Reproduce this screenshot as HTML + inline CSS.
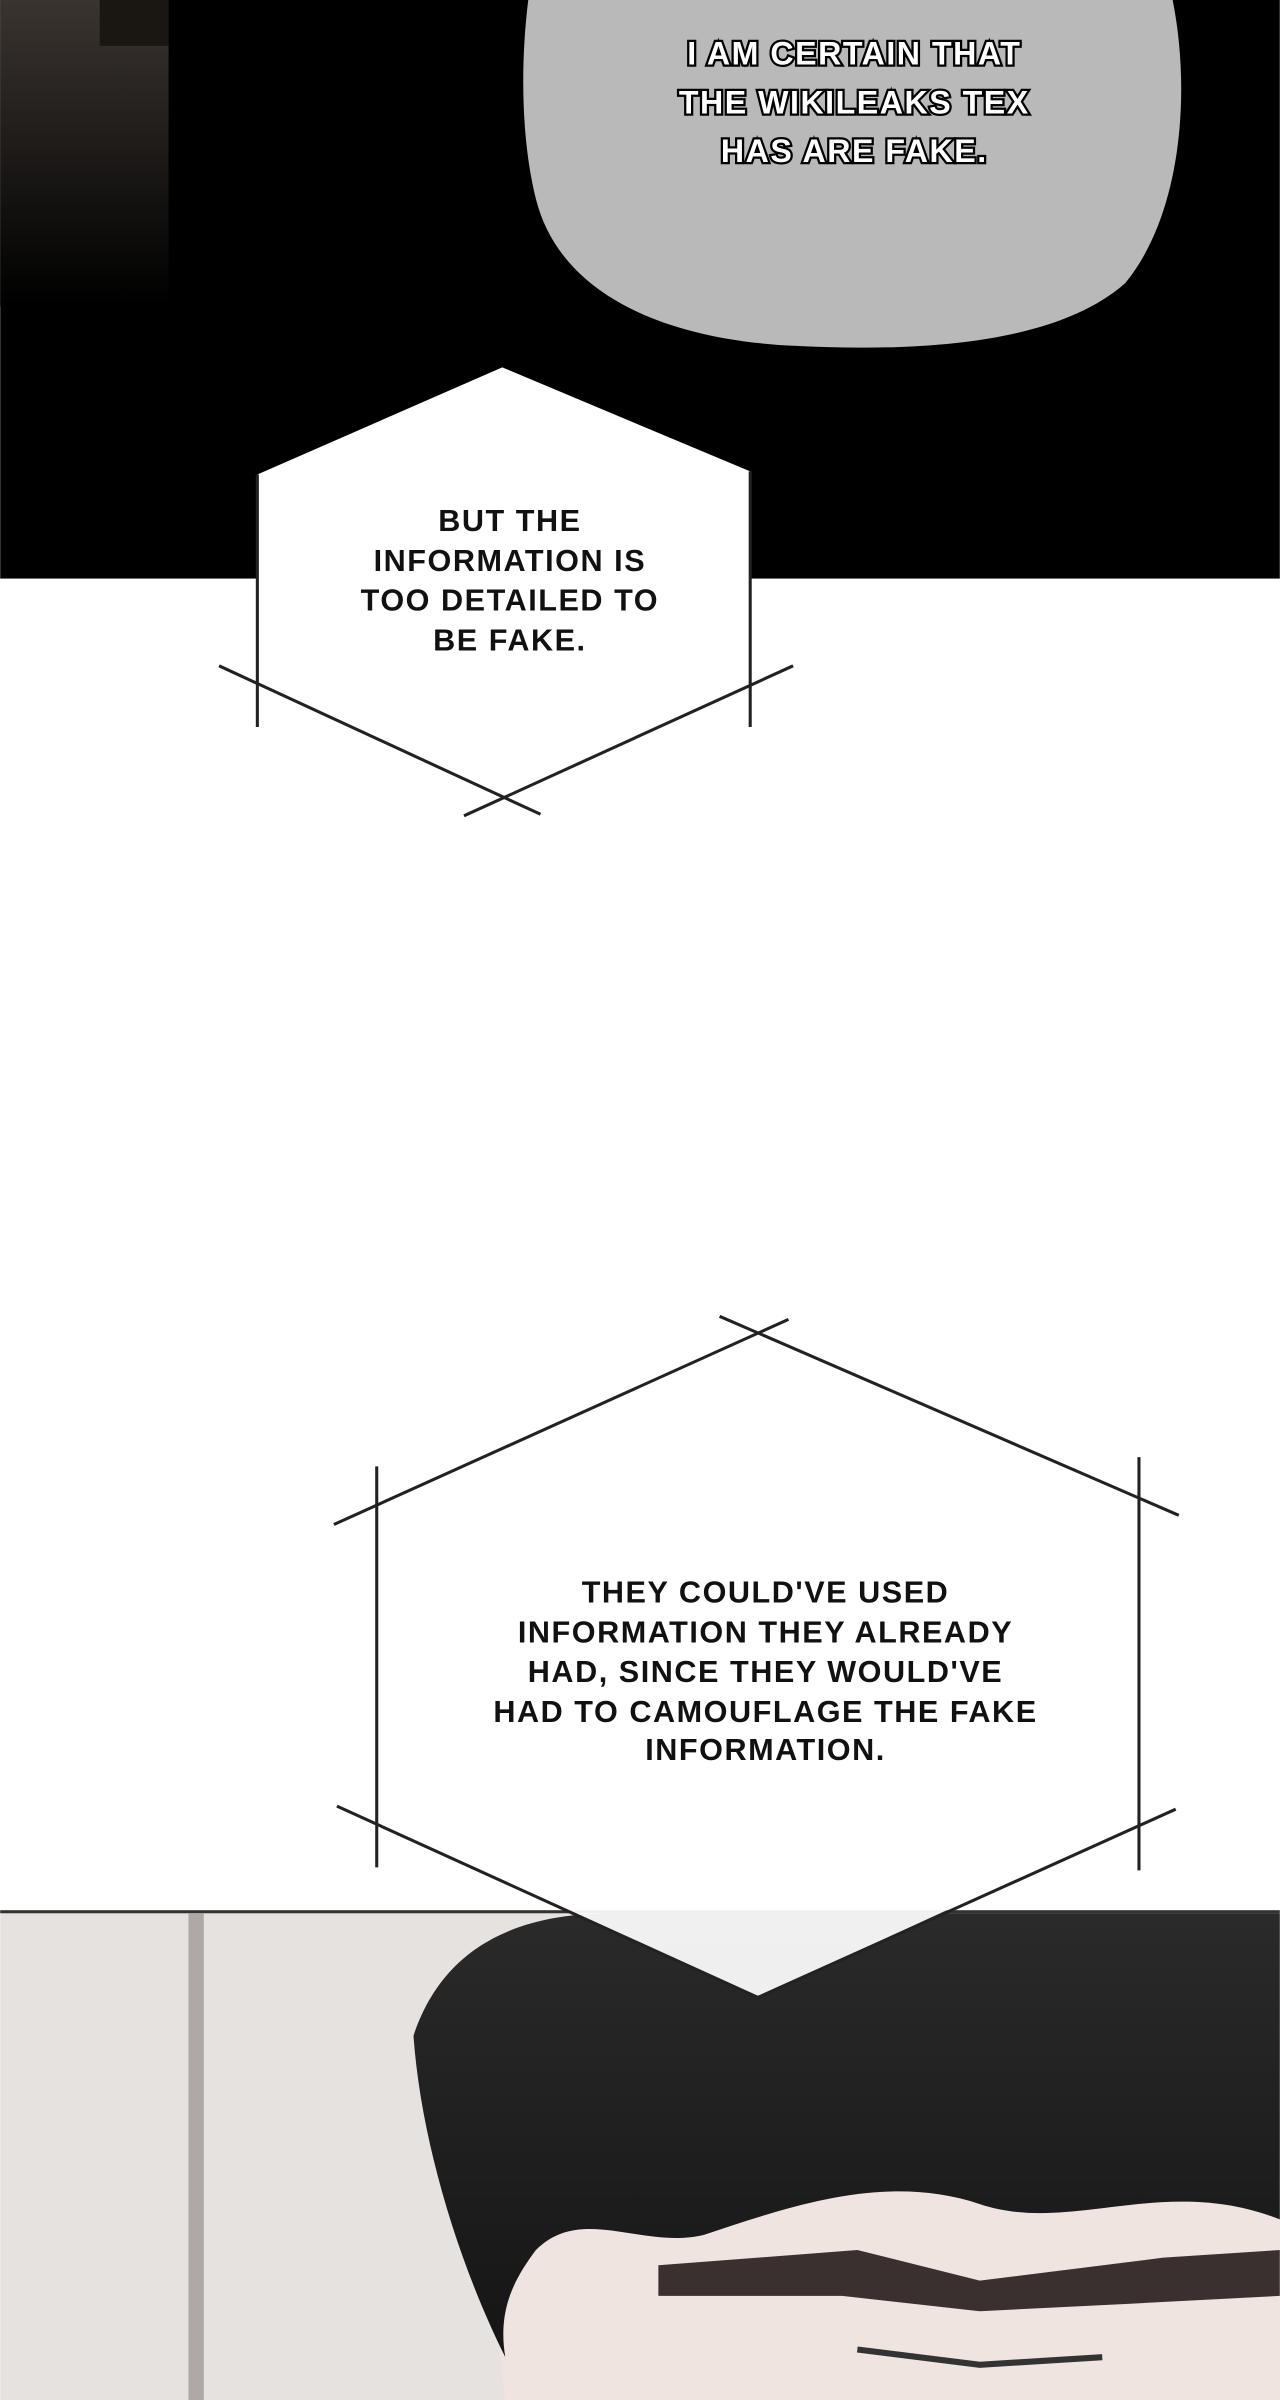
<!DOCTYPE html>
<html><head><meta charset="utf-8"><style>
html,body{margin:0;padding:0;background:#fff}
svg{display:block}
text{font-family:"Liberation Sans",sans-serif;font-weight:bold;text-anchor:middle;letter-spacing:1px}
</style></head><body>
<svg width="1280" height="2400" viewBox="0 0 836 1568" xmlns="http://www.w3.org/2000/svg">
<defs>
<linearGradient id="tl" x1="0" y1="0" x2="0" y2="1">
<stop offset="0" stop-color="#3a3430"/><stop offset="1" stop-color="#000"/></linearGradient>
<linearGradient id="hair" x1="0" y1="0" x2="0" y2="1">
<stop offset="0" stop-color="#2a2a2a"/><stop offset="1" stop-color="#151515"/></linearGradient>
</defs>
<rect x="0" y="0" width="836" height="378" fill="#000"/>
<rect x="0" y="0" width="110" height="200" fill="url(#tl)"/>
<rect x="65" y="0" width="45" height="30" fill="#1a1612"/>
<path d="M345,0 L766,0 C778,60 772,140 735,185 C690,225 600,230 520,226 C430,222 365,190 350,130 C340,90 340,40 345,0 Z" fill="#b9b9b9"/>
<g font-size="21" fill="#fff" stroke="#000" stroke-width="3" paint-order="stroke">
<text x="558" y="42">I AM CERTAIN THAT</text>
<text x="558" y="74">THE WIKILEAKS TEX</text>
<text x="558" y="106">HAS ARE FAKE.</text>
</g>
<polygon points="328,240 490,308 490,460 330,525 168,460 168,310" fill="#fff"/>
<g stroke="#222" stroke-width="2" fill="none">
<line x1="168" y1="310" x2="168" y2="475"/>
<line x1="490" y1="308" x2="490" y2="475"/>
<line x1="143" y1="435" x2="353" y2="532"/>
<line x1="518" y1="435" x2="303" y2="533"/>
</g>
<g font-size="20" fill="#111">
<text x="333" y="347">BUT THE</text>
<text x="333" y="373">INFORMATION IS</text>
<text x="333" y="399">TOO DETAILED TO</text>
<text x="333" y="425">BE FAKE.</text>
</g>
<rect x="0" y="1248" width="836" height="320" fill="#e6e2e0"/>
<rect x="0" y="1248" width="836" height="2" fill="#333"/>
<rect x="123" y="1250" width="10" height="318" fill="#b0a8a6"/>
<path d="M330,1568 C320,1500 330,1440 345,1400 L836,1380 L836,1568 Z" fill="#efe4df"/>
<path d="M270,1330 C290,1270 340,1250 400,1250 L836,1250 L836,1450 C760,1420 700,1460 640,1440 C580,1420 520,1440 460,1460 C420,1470 380,1440 350,1470 C335,1490 325,1510 330,1540 C300,1480 275,1400 270,1330 Z" fill="url(#hair)"/>
<path d="M430,1480 L560,1470 L640,1490 L760,1475 L836,1470 L836,1500 L740,1505 L640,1510 L550,1500 L430,1500 Z" fill="#3a3030"/>
<path d="M560,1535 L640,1545 L720,1540" stroke="#333" stroke-width="4" fill="none"/>
<polygon points="495,875 744,990 744,1190 495,1305 246,1190 246,990" fill="#fff" fill-opacity="0.93"/>
<g stroke="#222" stroke-width="2" fill="none">
<line x1="470" y1="860" x2="770" y2="990"/>
<line x1="515" y1="862" x2="218" y2="996"/>
<line x1="246" y1="958" x2="246" y2="1220"/>
<line x1="744" y1="952" x2="744" y2="1222"/>
<line x1="220" y1="1180" x2="495" y2="1305"/>
<line x1="768" y1="1182" x2="495" y2="1305"/>
</g>
<g font-size="20" fill="#111">
<text x="500" y="1047">THEY COULD'VE USED</text>
<text x="500" y="1073">INFORMATION THEY ALREADY</text>
<text x="500" y="1099">HAD, SINCE THEY WOULD'VE</text>
<text x="500" y="1125">HAD TO CAMOUFLAGE THE FAKE</text>
<text x="500" y="1150">INFORMATION.</text>
</g>
</svg>
</body></html>
